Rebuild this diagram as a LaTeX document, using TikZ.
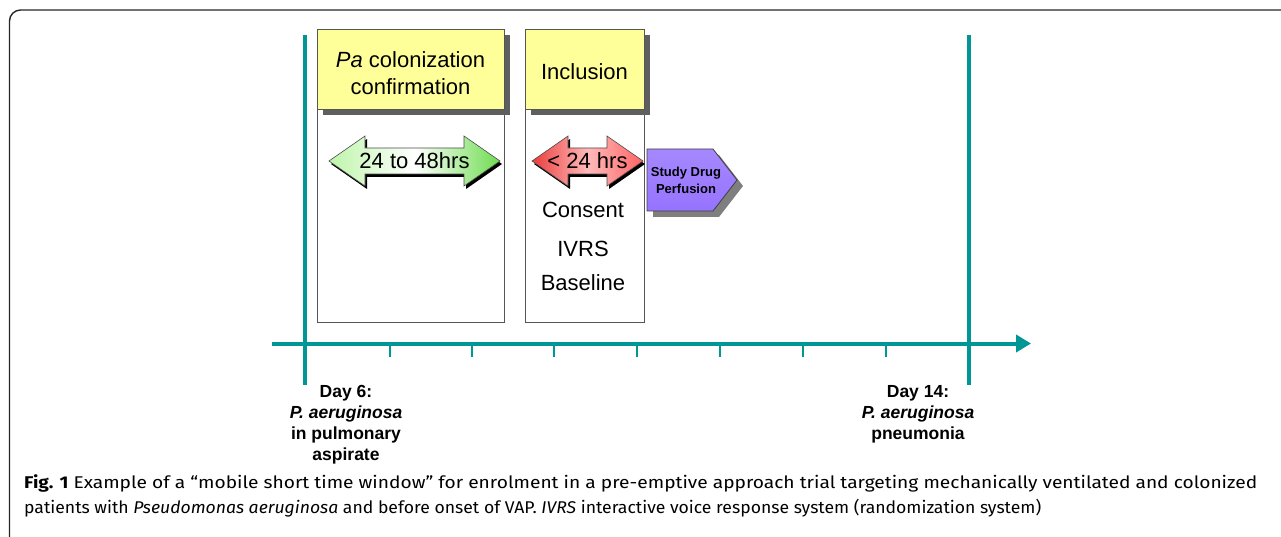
\documentclass[tikz,border=0pt]{standalone}
\usepackage{fontspec}
\setmainfont{Liberation Sans}
\newfontfamily\capfont{Fira Sans}
\usetikzlibrary{arrows.meta}

\definecolor{teal}{RGB}{0,150,150}
\definecolor{hdryellow}{RGB}{255,255,153}
\definecolor{boxline}{RGB}{85,85,85}
\definecolor{shadowgray}{RGB}{95,95,95}
\definecolor{greenA}{RGB}{190,245,170}
\definecolor{greenB}{RGB}{110,220,80}
\definecolor{redA}{RGB}{235,60,60}
\definecolor{redB}{RGB}{255,100,100}
\definecolor{drugviolet}{RGB}{150,115,255}

\tikzset{
  timeline/.style={draw=teal, line width=4pt},
  tickmark/.style={draw=teal, line width=2.6pt},
  panel/.style={draw=boxline, line width=0.9pt, fill=white},
  header/.style={draw=boxline, line width=0.9pt, fill=hdryellow},
  hshadow/.style={fill=shadowgray},
  bigtxt/.style={font=\fontsize{22}{26}\selectfont, inner sep=0pt},
  daytxt/.style={font=\fontsize{17.5}{21}\selectfont\bfseries, align=center, inner sep=0pt},
  captxt/.style={font=\capfont\fontsize{17}{20}\selectfont, anchor=base west, inner sep=0pt},
}

\begin{document}
\begin{tikzpicture}[x=1pt, y=-1pt]
\useasboundingbox (0,0) rectangle (1281,537);

% outer frame (open on the right and bottom)
\draw[line width=1.4pt, black!85, rounded corners=11pt] (9.5,540) -- (9.5,10) -- (1285,10);

% panels below the headers
\node[panel, minimum width=187pt, minimum height=293pt, anchor=north west, inner sep=0pt] (p1) at (317,29) {};
\node[panel, minimum width=119pt, minimum height=293pt, anchor=north west, inner sep=0pt] (p2) at (525,29) {};

% header shadows and headers
\fill[hshadow] (323,35) rectangle (510,115);
\fill[hshadow] (531,35) rectangle (650,115);
\node[header, minimum width=187pt, minimum height=80pt, anchor=north west, inner sep=0pt] (h1) at (317,29) {};
\node[header, minimum width=119pt, minimum height=80pt, anchor=north west, inner sep=0pt] (h2) at (525,29) {};
\node[bigtxt] (h1a) at (410.5,60) {\itshape Pa\upshape{} colonization};
\node[bigtxt] (h1b) at (410.5,87) {confirmation};
\node[bigtxt] (h2a) at (584.5,72) {Inclusion};

% time axis
\draw[timeline, -{Triangle[length=15pt, width=17pt]}] (272,343.5) coordinate (ax0) -- (1031,343.5) coordinate (ax1);
\coordinate (d6top) at (305,35);
\coordinate (d6bot) at (305,385);
\coordinate (d14top) at (969,35);
\coordinate (d14bot) at (969,385);
\draw[timeline] (d6top) -- (d6bot);
\draw[timeline] (d14top) -- (d14bot);
\foreach \t in {390,472,554,637,720,803,886}{
  \draw[tickmark] (\t,343.5) -- (\t,357);
}

% double arrows
\newcommand{\dblarrow}[2]{% left tip x, right tip x
  (#1,161) -- (#1+36,136) -- (#1+36,148) -- (#2-36,148) -- (#2-36,136) -- (#2,161)
  -- (#2-36,186) -- (#2-36,174) -- (#1+36,174) -- (#1+36,186) -- cycle}
\fill[black] [shift={(2,3)}] \dblarrow{329}{500};
\shade[left color=greenA, right color=greenB, middle color=white, draw=black!70, line width=0.6pt] \dblarrow{329}{500};
\node[bigtxt] (w1) at (414.5,161) {24 to 48hrs};

\fill[black] [shift={(2,3)}] \dblarrow{532}{643};
\shade[left color=redA, right color=redB, middle color=white!55!redB, draw=black!70, line width=0.6pt] \dblarrow{532}{643};
\node[bigtxt] (w2) at (587.5,161) {< 24 hrs};

% study drug pentagon
\fill[shadowgray!80] (653,155) -- (719,155) -- (743,186) -- (719,217) -- (653,217) -- cycle;
\shade[top color=drugviolet!85!white, bottom color=drugviolet, draw=black!75, line width=0.8pt]
  (647,149) -- (713,149) -- (737,180) -- (713,211) -- (647,211) -- cycle;
\node[font=\fontsize{13}{17}\selectfont\bfseries, align=center, inner sep=0pt] (drug) at (686,180.5) {Study Drug\\Perfusion};

% inclusion steps
\node[bigtxt] (s1) at (583,210) {Consent};
\node[bigtxt] (s2) at (583,249) {IVRS};
\node[bigtxt] (s3) at (583,283) {Baseline};

% day labels
\node[daytxt, anchor=north] (day6) at (346,385) {Day 6:\\\itshape P. aeruginosa\\in pulmonary\\aspirate};
\node[daytxt, anchor=north] (day14) at (918,385) {Day 14:\\\itshape P. aeruginosa\\pneumonia};

% caption
\node[captxt] (cap1) at (24,488) {\resizebox{1233pt}{\height}{\textbf{Fig. 1} Example of a “mobile short time window” for enrolment in a pre-emptive approach trial targeting mechanically ventilated and colonized}};
\node[captxt] (cap2) at (24,513) {\resizebox{1017pt}{\height}{patients with \textit{Pseudomonas aeruginosa} and before onset of VAP. \textit{IVRS} interactive voice response system (randomization system)}};
\end{tikzpicture}
\end{document}
